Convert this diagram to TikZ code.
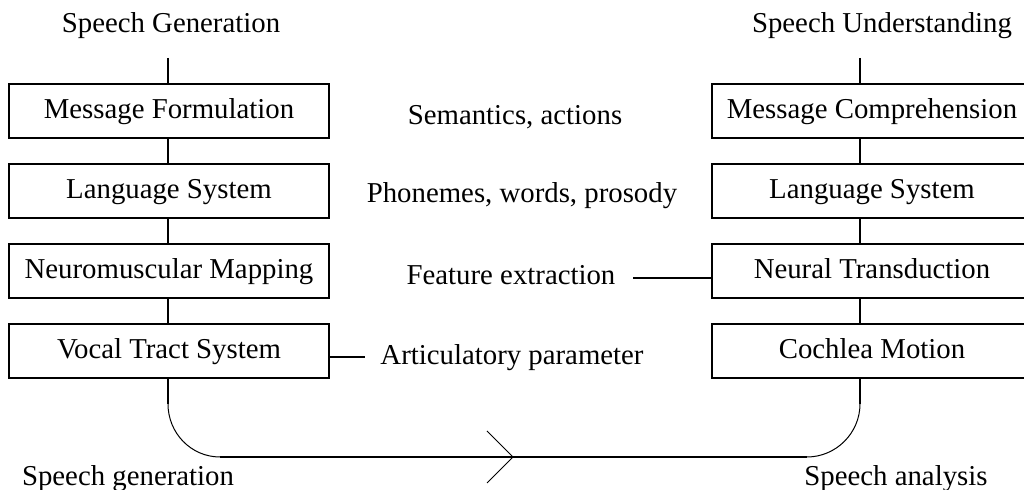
\documentclass[tikz,border=0pt]{standalone}
\usepackage{fontspec}
\setmainfont{Liberation Serif}
\begin{document}
\begin{tikzpicture}[x=0.5pt,y=-0.5pt,
  font=\fontsize{14.4}{17}\selectfont,
  box/.style={draw, line width=1.4pt, minimum width=160pt, minimum height=27pt,
    inner sep=0pt, text height=10pt, text depth=2pt},
  lbl/.style={anchor=base, inner sep=0pt},
  thickline/.style={line width=1.4pt},
  side/.style={line width=1pt},
  thinline/.style={line width=0.5pt}]
\useasboundingbox (0,0) rectangle (1024,490);
\clip (0,0) rectangle (1024,490);

% titles
\node[lbl] (sg) at (171,33) {Speech Generation};
\node[lbl] (su) at (882,33) {Speech Understanding};

% left column
\node[box] (mf)  at (169,111) {Message Formulation};
\node[box] (ls1) at (169,191) {Language System};
\node[box] (nm)  at (169,271) {Neuromuscular Mapping};
\node[box] (vt)  at (169,351) {Vocal Tract System};

% right column
\node[box] (mc)  at (872,111) {Message Comprehension};
\node[box] (ls2) at (872,191) {Language System};
\node[box] (nt)  at (872,271) {Neural Transduction};
\node[box] (cm)  at (872,351) {Cochlea Motion};

% middle labels
\node[lbl] (sem) at (515,125) {Semantics, actions};
\node[lbl] (pho) at (522,203) {Phonemes, words, prosody};
\node[lbl] (fe)  at (511,285) {Feature extraction};
\node[lbl] (ap)  at (512,365) {Articulatory parameter};

% bottom labels
\node[lbl] (sgen) at (128,486) {Speech generation};
\node[lbl] (sana) at (896,486) {Speech analysis};

% left vertical connectors
\coordinate (lt) at (168,58);
\draw[thickline] (lt) -- (lt |- mf.north);
\draw[thickline] (lt |- mf.south) -- (lt |- ls1.north);
\draw[thickline] (lt |- ls1.south) -- (lt |- nm.north);
\draw[thickline] (lt |- nm.south) -- (lt |- vt.north);

% right vertical connectors
\coordinate (rt) at (860,58);
\draw[thickline] (rt) -- (rt |- mc.north);
\draw[thickline] (rt |- mc.south) -- (rt |- ls2.north);
\draw[thickline] (rt |- ls2.south) -- (rt |- nt.north);
\draw[thickline] (rt |- nt.south) -- (rt |- cm.north);

% side lines
\coordinate (apL) at (365,357);
\draw[side] (vt.east |- apL) -- (apL);
\coordinate (feR) at (633,278);
\draw[side] (feR) -- (feR -| nt.west);

% bottom path
\coordinate (lb) at (168,404);
\coordinate (la) at (220,457);
\coordinate (ra) at (807,457);
\coordinate (rb) at (860,404);
\draw[thickline] (lb |- vt.south) -- (lb);
\draw[thickline] (rb |- cm.south) -- (rb);
\draw[thinline] (lb) .. controls (168,433) and (191,457) .. (la);
\draw[side] (la) -- (ra);
\draw[thinline] (ra) .. controls (836,457) and (860,433) .. (rb);

% open chevron arrowhead
\coordinate (tip) at (513,457);
\draw[thinline] (tip) ++(-26,-26) -- (tip) -- ++(-26,26);
\end{tikzpicture}
\end{document}
